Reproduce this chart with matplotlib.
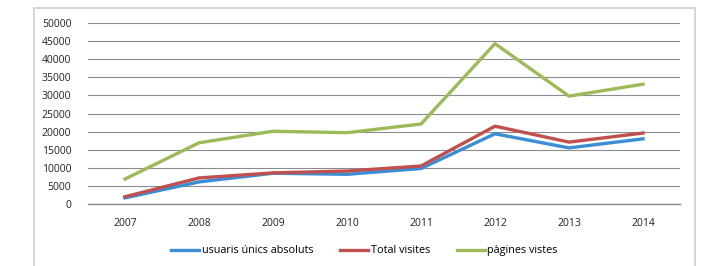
import matplotlib.pyplot as plt
from matplotlib.patches import Rectangle

years = ['2007', '2008', '2009', '2010', '2011', '2012', '2013', '2014']
usuaris = [1700, 6100, 8500, 8200, 9800, 19400, 15500, 18000]
total = [2000, 7200, 8600, 9100, 10500, 21500, 17100, 19600]
pagines = [6900, 16900, 20100, 19700, 22100, 44300, 29800, 33100]

plt.rcParams['font.family'] = ['Open Sans', 'DejaVu Sans']

fig = plt.figure(figsize=(7.06, 2.66), dpi=100)
fig.patches.append(Rectangle((34 / 706, -0.1), (695 - 34) / 706, 1.1 - 8 / 266,
                             transform=fig.transFigure, fill=False,
                             edgecolor='#d0d0d0', linewidth=1.2))

ax = fig.add_axes([88 / 706, 62 / 266, 592 / 706, 181 / 266])
x = range(len(years))
ax.plot(x, usuaris, color='#3b8ed6', linewidth=2.4, label='usuaris únics absoluts')
ax.plot(x, total, color='#c0504d', linewidth=2.4, label='Total visites')
ax.plot(x, pagines, color='#9bbb59', linewidth=2.4, label='pàgines vistes')

ax.set_xlim(-0.5, len(years) - 0.5)
ax.set_ylim(0, 50000)
ax.set_yticks(range(0, 50001, 5000))
ax.set_xticks(list(x))
ax.set_xticklabels(years)
ax.grid(axis='y', color='#8c8c8c', linewidth=0.8)
ax.set_axisbelow(True)
for s in ['top', 'right', 'left']:
    ax.spines[s].set_visible(False)
ax.spines['bottom'].set_color('#8c8c8c')
ax.spines['bottom'].set_linewidth(1.0)
ax.tick_params(length=0, labelsize=7.5, colors='#222222')
ax.tick_params(axis='x', pad=10)
ax.tick_params(axis='y', pad=12)

# legend centred on the outer frame, not on the plot area
ax.legend(loc='upper center', bbox_to_anchor=(0.467, -0.175), ncol=3, frameon=False,
          fontsize=7.8, handlelength=2.6, handletextpad=0.2, columnspacing=2.5)

fig.savefig('out.png', dpi=100)
